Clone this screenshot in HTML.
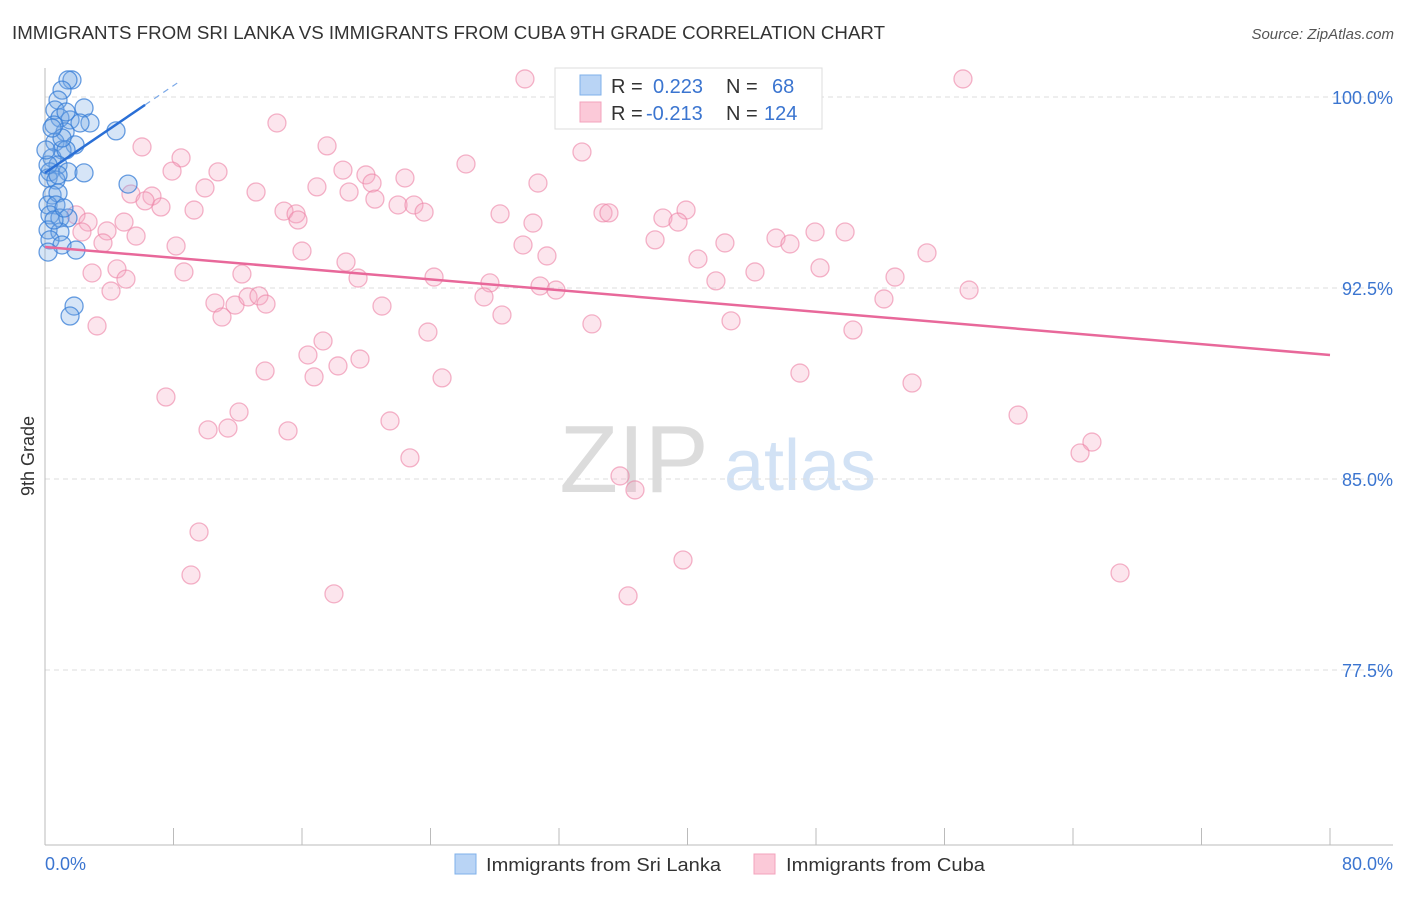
<!DOCTYPE html>
<html><head><meta charset="utf-8"><style>
body{margin:0;background:#fff;font-family:"Liberation Sans",sans-serif;}
svg text{font-family:"Liberation Sans",sans-serif;}
</style></head><body>
<svg id="chart" width="1406" height="892" xmlns="http://www.w3.org/2000/svg">
<text x="12" y="39" font-size="18" fill="#333" textLength="873" lengthAdjust="spacingAndGlyphs">IMMIGRANTS FROM SRI LANKA VS IMMIGRANTS FROM CUBA 9TH GRADE CORRELATION CHART</text>
<text x="1394" y="39" font-size="15" fill="#555" text-anchor="end" font-style="italic">Source: ZipAtlas.com</text>
<g>
<text x="634" y="492" font-size="96" fill="#dcdcdc" text-anchor="middle" font-family="Liberation Serif">ZIP</text>
<text x="800" y="490" font-size="72" fill="#d2e2f5" text-anchor="middle">atlas</text>
</g>
<g id="grid"></g>
<g id="axes"></g>
<g id="points"></g>
<g id="lines"></g>
<text x="34" y="456" font-size="18" fill="#333" text-anchor="middle" transform="rotate(-90 34 456)">9th Grade</text>
<g>
<rect x="555" y="68" width="267" height="61" fill="#fff" stroke="#ddd"/>
<rect x="580" y="75" width="21" height="20" fill="#b9d4f5" stroke="#7fb0ea"/>
<rect x="580" y="102" width="21" height="20" fill="#fbc9d8" stroke="#f3a3bc"/>
<text x="611" y="93" font-size="20" fill="#333">R =</text>
<text x="653" y="93" font-size="20" fill="#3b75d0">0.223</text>
<text x="726" y="93" font-size="20" fill="#333">N =</text>
<text x="772" y="93" font-size="20" fill="#3b75d0">68</text>
<text x="611" y="120" font-size="20" fill="#333">R =</text>
<text x="646" y="120" font-size="20" fill="#3b75d0">-0.213</text>
<text x="726" y="120" font-size="20" fill="#333">N =</text>
<text x="764" y="120" font-size="20" fill="#3b75d0">124</text>
</g>
<g>
<rect x="455" y="854" width="21" height="20" fill="#b9d4f5" stroke="#7fb0ea"/>
<text x="486" y="871" font-size="18" fill="#333" textLength="235" lengthAdjust="spacingAndGlyphs">Immigrants from Sri Lanka</text>
<rect x="754" y="854" width="21" height="20" fill="#fbc9d8" stroke="#f3a3bc"/>
<text x="786" y="871" font-size="18" fill="#333" textLength="199" lengthAdjust="spacingAndGlyphs">Immigrants from Cuba</text>
</g>
</svg>
<script>
const yTicks=[100,92.5,85,77.5];
const yTickLabels=["100.0%","92.5%","85.0%","77.5%"];
const xTickLabels=["0.0%","80.0%"];
const blueX=[1.68,1.43,1.06,0.81,0.62,2.43,0.93,1.56,2.80,2.18,4.42,1.25,0.62,1.87,1.06,0.44,1.31,0.81,0.31,1.43,2.43,0.19,0.68,5.17,0.44,0.81,0.19,0.68,0.31,0.93,1.43,0.19,0.93,0.31,1.06,1.93,0.19,1.81,1.56,0.56,1.06,0.19,0.06,0.44,1.31,0.81,0.56,1.18];
const blueY=[100.67,100.67,100.27,99.88,99.49,99.57,99.18,99.10,98.98,98.98,98.67,98.63,98.23,98.12,97.92,97.61,97.92,97.33,97.06,97.06,97.02,96.82,96.74,96.58,96.15,96.23,95.76,95.76,95.37,95.25,95.25,94.78,94.70,94.39,94.19,93.99,93.91,91.79,91.40,98.90,98.39,97.33,97.92,98.78,99.41,96.94,95.17,95.64];
const pinkX=[29.88,57.15,14.44,6.04,17.56,8.47,26.21,33.43,10.77,7.91,18.55,19.98,20.36,22.41,13.14,9.96,16.93,18.93,30.69,5.35,6.66,7.22,6.23,9.28,20.54,21.98,22.97,23.60,14.88,15.63,15.75,28.33,30.38,34.74,35.11,38.47,39.91,39.41,1.93,2.68,4.92,2.30,3.86,5.67,3.61,8.16,16.00,29.76,37.98,42.33,45.51,46.38,47.94,49.81,31.25,40.65,54.91,18.74,4.48,2.93,5.04,8.65,12.26,19.49,24.22,27.70,30.82,31.81,41.77,44.20,48.25,52.92,4.11,10.58,11.83,12.64,13.32,13.76,20.98,27.33,28.45,57.53,52.23,11.02,3.24,23.84,34.05,42.71,50.30,17.31,16.37,19.61,13.70,16.75,18.24,24.72,47.00,53.98,7.53,12.08,10.15,11.39,15.13,21.48,60.58,22.72,65.18,64.44,35.80,36.73,9.59,39.72,9.09,17.99,36.30,66.93];
const pinkY=[100.71,100.71,98.98,98.04,98.08,97.61,97.37,97.84,97.06,97.09,97.13,96.94,96.62,96.82,96.27,96.43,96.47,96.27,96.62,96.19,96.11,95.68,95.92,95.56,95.99,95.76,95.76,95.48,95.52,95.41,95.17,95.41,95.05,95.45,95.45,95.25,95.56,95.09,95.37,95.09,95.09,94.70,94.74,94.54,94.27,94.15,93.95,94.19,94.39,94.27,94.46,94.23,94.70,94.70,93.76,93.64,93.88,93.52,93.25,93.09,92.85,93.13,93.05,92.89,92.93,92.70,92.58,92.42,92.78,93.13,93.29,92.93,92.38,91.91,91.83,92.15,92.19,91.87,91.79,92.15,91.44,92.42,92.07,91.36,91.01,90.77,91.09,91.21,90.85,90.42,89.87,89.71,89.24,89.01,89.44,88.97,89.16,88.77,88.22,87.63,86.93,87.00,86.89,87.28,87.51,85.83,86.45,86.02,85.12,84.57,82.92,81.82,81.23,80.49,80.41,81.31];
const blueTrendX=[0,6.23];
const blueTrendY=[97.02,99.69];
const pinkTrendX=[0,80];
const pinkTrendY=[94.11,89.87];

const NS="http://www.w3.org/2000/svg";
function xs(v){return 45+v/80*1285;}
function ys(v){return 97+(100-v)*25.467;}
function mk(tag,attrs,parent){const e=document.createElementNS(NS,tag);for(const k in attrs)e.setAttribute(k,attrs[k]);parent.appendChild(e);return e;}
const grid=document.getElementById('grid'),axes=document.getElementById('axes'),pts=document.getElementById('points'),lines=document.getElementById('lines');
yTicks.forEach((t,i)=>{
  const l=mk('line',{x1:45,x2:1393,y1:ys(t),y2:ys(t),stroke:'#ddd','stroke-dasharray':'5,4'},grid);
  
  
  const tx=mk('text',{x:1393,y:ys(t)+7,'font-size':18,fill:'#3b75d0','text-anchor':'end'},axes);
  tx.textContent=yTickLabels[i];
  
  
});
const la=mk('line',{x1:45,x2:45,y1:68,y2:845,stroke:'#bbb'},axes);


const ba=mk('line',{x1:45,x2:1393,y1:845,y2:845,stroke:'#bbb'},axes);


for(let i=0;i<=10;i++){
  const t=mk('line',{x1:xs(i*8),x2:xs(i*8),y1:828,y2:845,stroke:'#bbb'},axes);
  
  
}
const xl0=mk('text',{x:45,y:870,'font-size':18,fill:'#3b75d0'},axes);
xl0.textContent=xTickLabels[0];


const xl1=mk('text',{x:1393,y:870,'font-size':18,fill:'#3b75d0','text-anchor':'end'},axes);
xl1.textContent=xTickLabels[1];


pinkX.forEach((x,i)=>{
  const c=mk('circle',{cx:xs(x),cy:ys(pinkY[i]),r:9,fill:'rgba(246,170,196,0.3)',stroke:'rgba(236,130,165,0.6)','stroke-width':1.3},pts);
  
  
});
blueX.forEach((x,i)=>{
  const c=mk('circle',{cx:xs(x),cy:ys(blueY[i]),r:9,fill:'rgba(120,170,230,0.3)',stroke:'rgba(55,125,215,0.75)','stroke-width':1.3},pts);
  
  
});
const pl=mk('line',{x1:xs(pinkTrendX[0]),y1:ys(pinkTrendY[0]),x2:xs(pinkTrendX[1]),y2:ys(pinkTrendY[1]),stroke:'#e8689a','stroke-width':2.5},lines);


const bl=mk('line',{x1:xs(blueTrendX[0]),y1:ys(blueTrendY[0]),x2:xs(blueTrendX[1]),y2:ys(blueTrendY[1]),stroke:'#2a6fd6','stroke-width':2.5},lines);


const slope=(blueTrendY[1]-blueTrendY[0])/(blueTrendX[1]-blueTrendX[0]);
const ext=blueTrendX[1]+2;
const bd=mk('line',{x1:xs(blueTrendX[1]),y1:ys(blueTrendY[1]),x2:xs(ext),y2:ys(blueTrendY[1]+slope*2),stroke:'#7aa8e8','stroke-width':1.2,'stroke-dasharray':'6,5'},lines);


</script>
</body></html>
